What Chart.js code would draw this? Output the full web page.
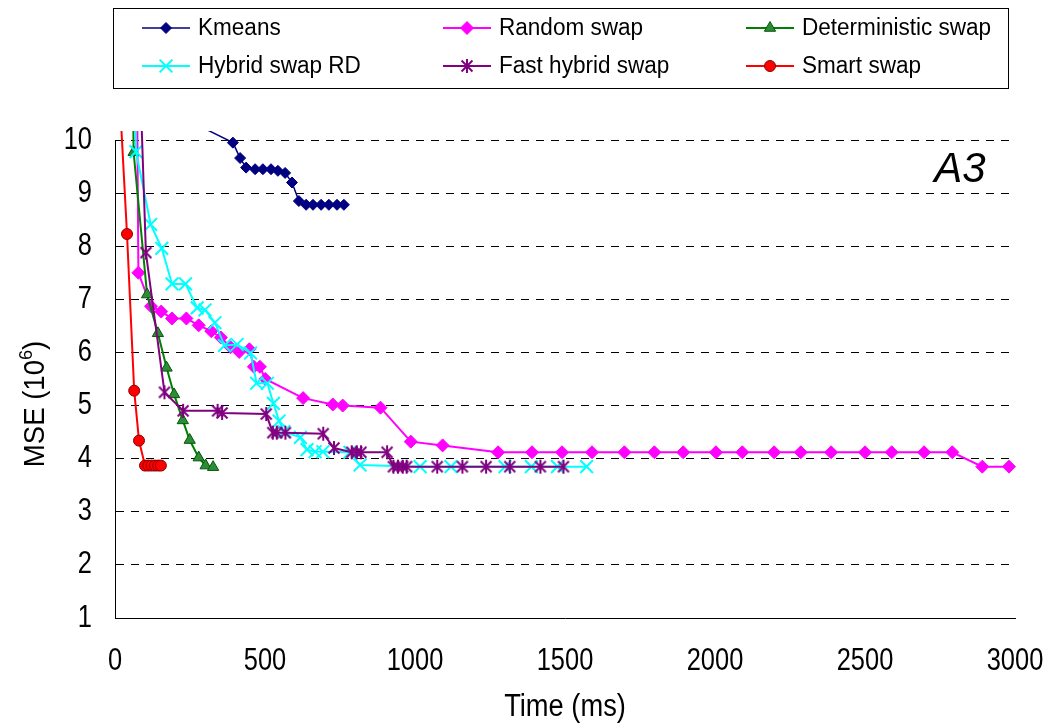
<!DOCTYPE html>
<html>
<head>
<meta charset="utf-8">
<script src="https://cdn.jsdelivr.net/npm/chart.js@4.4.1/dist/chart.umd.min.js"></script>
<style>
  html, body { margin: 0; padding: 0; background: #fff; }
  #wrap { width: 1056px; height: 724px; position: relative; }
</style>
</head>
<body>
<div id="wrap"><canvas id="chart" width="1056" height="724"></canvas></div>
<script>
// Time (ms) and MSE (x10^6) for each algorithm on the A3 data set
const kmeansTime = [290, 393, 417, 437, 467, 493, 520, 543, 567, 590, 613, 637, 660, 687, 713, 740, 763];
const kmeansMse  = [10.24, 9.95, 9.66, 9.48, 9.45, 9.45, 9.45, 9.42, 9.38, 9.20, 8.85, 8.78, 8.78, 8.78, 8.78, 8.78, 8.78];

const randomTime = [70, 78, 120, 154, 190, 238, 279, 321, 353, 385, 414, 448, 463, 483, 501, 627, 726, 759, 885, 986, 1092,
                    1277, 1390, 1490, 1590, 1698, 1798, 1894, 2003, 2091, 2197, 2286, 2387, 2500, 2589, 2697, 2791, 2891, 2980];
const randomMse  = [13.6, 7.50, 6.87, 6.77, 6.64, 6.64, 6.51, 6.40, 6.28, 6.10, 6.01, 6.06, 5.73, 5.73, 5.50, 5.14, 5.02, 5.00, 4.96, 4.32, 4.25,
                    4.12, 4.12, 4.12, 4.12, 4.12, 4.12, 4.12, 4.12, 4.12, 4.12, 4.12, 4.12, 4.12, 4.12, 4.12, 4.12, 3.85, 3.85];

const detTime = [55, 62, 107, 143, 172, 197, 226, 249, 279, 302, 327];
const detMse  = [14.0, 9.77, 7.09, 6.36, 5.71, 5.21, 4.72, 4.35, 4.02, 3.87, 3.84];

const hybridTime = [58, 70, 119, 156, 190, 235, 274, 300, 333, 365, 407, 452, 472, 508, 528, 547, 563, 618, 640, 667,
                    693, 783, 817, 1017, 1120, 1300, 1388, 1475, 1572];
const hybridMse  = [12.5, 9.78, 8.41, 7.96, 7.29, 7.29, 6.84, 6.80, 6.56, 6.13, 6.15, 5.99, 5.42, 5.42, 5.04, 4.71, 4.51, 4.40, 4.17, 4.13,
                    4.13, 4.12, 3.88, 3.85, 3.85, 3.85, 3.85, 3.85, 3.85];

const fastTime = [80, 103, 165, 227, 342, 357, 504, 526, 539, 568, 694, 730, 789, 806, 820, 907,
                  928, 943, 959, 972, 1074, 1158, 1237, 1316, 1418, 1495];
const fastMse  = [11.75, 7.88, 5.25, 4.90, 4.90, 4.86, 4.84, 4.49, 4.49, 4.49, 4.47, 4.20, 4.12, 4.12, 4.12, 4.12,
                  3.85, 3.85, 3.85, 3.85, 3.85, 3.85, 3.85, 3.85, 3.85, 3.85];

const smartTime = [10, 40, 64, 80, 100, 111, 122, 133, 144, 153];
const smartMse  = [11.4, 8.23, 5.28, 4.34, 3.87, 3.87, 3.87, 3.87, 3.87, 3.87];

const seriesNames = ['Kmeans', 'Random swap', 'Deterministic swap', 'Hybrid swap RD', 'Fast hybrid swap', 'Smart swap'];
const xTickValues = [0, 500, 1000, 1500, 2000, 2500, 3000];
const yTickValues = [1, 2, 3, 4, 5, 6, 7, 8, 9, 10];
const panelLabel = 'A3';
const xTitle = 'Time (ms)';

const FONT = '"Liberation Sans", Arial, sans-serif';

// draws text horizontally scaled by `squeeze` around its anchor point
function squeezedText(ctx, text, x, y, size, align, baseline, squeeze) {
  ctx.save();
  ctx.font = size + 'px ' + FONT;
  ctx.textAlign = align;
  ctx.textBaseline = baseline;
  ctx.translate(x, y);
  ctx.scale(squeeze, 1);
  ctx.fillText(text, 0, 0);
  ctx.restore();
}

// six-armed asterisk marker
function makeAsterisk(r, color, lw) {
  const s = Math.ceil(2 * r + lw + 2);
  const cv = document.createElement('canvas');
  cv.width = s; cv.height = s;
  const g = cv.getContext('2d');
  const c = s / 2;
  g.strokeStyle = color; g.lineWidth = lw; g.lineCap = 'butt';
  g.beginPath();
  g.moveTo(c, c - r); g.lineTo(c, c + r);
  const a = r * 0.78;
  g.moveTo(c - a, c - a); g.lineTo(c + a, c + a);
  g.moveTo(c - a, c + a); g.lineTo(c + a, c - a);
  g.stroke();
  return cv;
}
const asterisk = makeAsterisk(7, '#800080', 2);

const toPoints = (xs, ys) => xs.map((x, i) => ({ x: x, y: ys[i] }));
const edgeClip = { left: 2, top: 9, right: 2, bottom: 2 };

const datasets = [
  { label: seriesNames[0], data: toPoints(kmeansTime, kmeansMse), borderColor: '#000080', backgroundColor: '#000080',
    borderWidth: 1.5, pointStyle: 'rectRot', pointRadius: 5.5, pointBorderWidth: 1, pointBorderColor: '#000080', order: 6 },
  { label: seriesNames[1], data: toPoints(randomTime, randomMse), borderColor: '#FF00FF', backgroundColor: '#FF00FF',
    borderWidth: 2, pointStyle: 'rectRot', pointRadius: 6.5, pointBorderWidth: 1, pointBorderColor: '#FF00FF', order: 5 },
  { label: seriesNames[2], data: toPoints(detTime, detMse), borderColor: '#008000', backgroundColor: '#2E8B3A',
    borderWidth: 2, pointStyle: 'triangle', pointRadius: 6.5, pointBorderWidth: 1, pointBorderColor: '#005A00', order: 4 },
  { label: seriesNames[3], data: toPoints(hybridTime, hybridMse), borderColor: '#00FFFF', backgroundColor: '#00FFFF',
    borderWidth: 2, pointStyle: 'crossRot', pointRadius: 9, pointBorderWidth: 2, pointBorderColor: '#00FFFF', order: 3 },
  { label: seriesNames[4], data: toPoints(fastTime, fastMse), borderColor: '#800080', backgroundColor: '#800080',
    borderWidth: 2, pointStyle: asterisk, pointRadius: 7, pointBorderWidth: 2, pointBorderColor: '#800080', order: 2 },
  { label: seriesNames[5], data: toPoints(smartTime, smartMse), borderColor: '#FF0000', backgroundColor: '#FF0000',
    borderWidth: 2, pointStyle: 'circle', pointRadius: 5.5, pointBorderWidth: 1, pointBorderColor: '#8B0000', order: 1 }
];
datasets.forEach(d => { d.clip = edgeClip; d.tension = 0; d.fill = false; d.pointHoverRadius = d.pointRadius; });

function drawMarker(ctx, ds, x, y) {
  const st = ds.pointStyle, r = ds.pointRadius;
  ctx.save();
  ctx.fillStyle = ds.backgroundColor;
  ctx.strokeStyle = ds.pointBorderColor;
  ctx.lineWidth = ds.pointBorderWidth;
  if (typeof st !== 'string') {
    ctx.drawImage(st, x - st.width / 2, y - st.height / 2);
  } else {
    ctx.beginPath();
    if (st === 'rectRot') {
      ctx.moveTo(x - r, y); ctx.lineTo(x, y - r); ctx.lineTo(x + r, y); ctx.lineTo(x, y + r); ctx.closePath();
      ctx.fill(); ctx.stroke();
    } else if (st === 'triangle') {
      for (let k = 0; k < 3; k++) {
        const a = k * 2 * Math.PI / 3;
        const px = x + Math.sin(a) * r, py = y - Math.cos(a) * r;
        if (k === 0) ctx.moveTo(px, py); else ctx.lineTo(px, py);
      }
      ctx.closePath(); ctx.fill(); ctx.stroke();
    } else if (st === 'crossRot') {
      const a = r * Math.SQRT1_2;
      ctx.moveTo(x - a, y - a); ctx.lineTo(x + a, y + a);
      ctx.moveTo(x - a, y + a); ctx.lineTo(x + a, y - a);
      ctx.stroke();
    } else {
      ctx.arc(x, y, r, 0, Math.PI * 2); ctx.fill(); ctx.stroke();
    }
  }
  ctx.restore();
}

const TICK_SQUEEZE = 0.82;

const decorations = {
  id: 'decorations',
  afterDraw(chart) {
    const ctx = chart.ctx;
    const area = chart.chartArea;
    const xs = chart.scales.x, ys = chart.scales.y;
    ctx.save();
    ctx.fillStyle = '#000';

    // tick labels, placed by the chart's own scales
    xTickValues.forEach(v => squeezedText(ctx, String(v), xs.getPixelForValue(v), area.bottom + 43, 31, 'center', 'middle', TICK_SQUEEZE));
    yTickValues.forEach(v => squeezedText(ctx, String(v), area.left - 23, ys.getPixelForValue(v), 31, 'right', 'middle', TICK_SQUEEZE));

    // legend box
    ctx.strokeStyle = '#000';
    ctx.lineWidth = 1;
    ctx.strokeRect(113.5, 8.5, 895, 80);
    const colX = [142, 443, 746];
    const rowY = [28, 66];
    chart.data.datasets.forEach((ds, i) => {
      const x0 = colX[i % 3], y0 = rowY[Math.floor(i / 3)];
      ctx.strokeStyle = ds.borderColor;
      ctx.lineWidth = ds.borderWidth;
      ctx.beginPath(); ctx.moveTo(x0, y0); ctx.lineTo(x0 + 48, y0); ctx.stroke();
      drawMarker(ctx, ds, x0 + 24, y0);
      ctx.fillStyle = '#000';
      squeezedText(ctx, ds.label, x0 + 56, y0 + 1, 23, 'left', 'middle', 0.98);
    });

    // y axis title with superscript exponent
    ctx.fillStyle = '#000';
    const main = 'MSE (10', sup = '6', close = ')';
    const big = 29, small = 19, sq = 0.95;
    ctx.font = big + 'px ' + FONT;
    const w1 = ctx.measureText(main).width * sq, w3 = ctx.measureText(close).width * sq;
    ctx.font = small + 'px ' + FONT;
    const w2 = ctx.measureText(sup).width * sq;
    const total = w1 + w2 + w3;
    ctx.save();
    ctx.translate(34, 404);
    ctx.rotate(-Math.PI / 2);
    let cx = -total / 2;
    squeezedText(ctx, main, cx, 10, big, 'left', 'alphabetic', sq); cx += w1;
    squeezedText(ctx, sup, cx, -2, small, 'left', 'alphabetic', sq); cx += w2;
    squeezedText(ctx, close, cx, 10, big, 'left', 'alphabetic', sq);
    ctx.restore();

    // x axis title
    squeezedText(ctx, xTitle, (area.left + area.right) / 2, 707, 31, 'center', 'middle', 0.88);

    // panel label
    ctx.font = 'italic 42px ' + FONT;
    ctx.textAlign = 'center';
    ctx.textBaseline = 'middle';
    ctx.fillText(panelLabel, 960, 170);

    ctx.restore();
  }
};

new Chart(document.getElementById('chart'), {
  type: 'line',
  data: { datasets: datasets },
  options: {
    responsive: false,
    animation: false,
    devicePixelRatio: 1,
    layout: { padding: { top: 140, right: 41, bottom: 0, left: 0 } },
    plugins: { legend: { display: false }, tooltip: { enabled: false } },
    scales: {
      x: {
        type: 'linear', min: 0, max: 3000,
        afterBuildTicks: s => { s.ticks = xTickValues.map(v => ({ value: v })); },
        afterFit: s => { s.height = 106; },
        grid: { display: false, drawTicks: false },
        border: { display: true, color: '#000', width: 1 },
        ticks: { display: false }
      },
      y: {
        type: 'linear', min: 1, max: 10,
        afterBuildTicks: s => { s.ticks = yTickValues.map(v => ({ value: v })); },
        afterFit: s => { s.width = 115; },
        grid: { color: '#000', lineWidth: 1, drawTicks: false },
        border: { display: true, color: '#000', width: 1, dash: [8, 7] },
        ticks: { display: false }
      }
    }
  },
  plugins: [decorations]
});
</script>
</body>
</html>
